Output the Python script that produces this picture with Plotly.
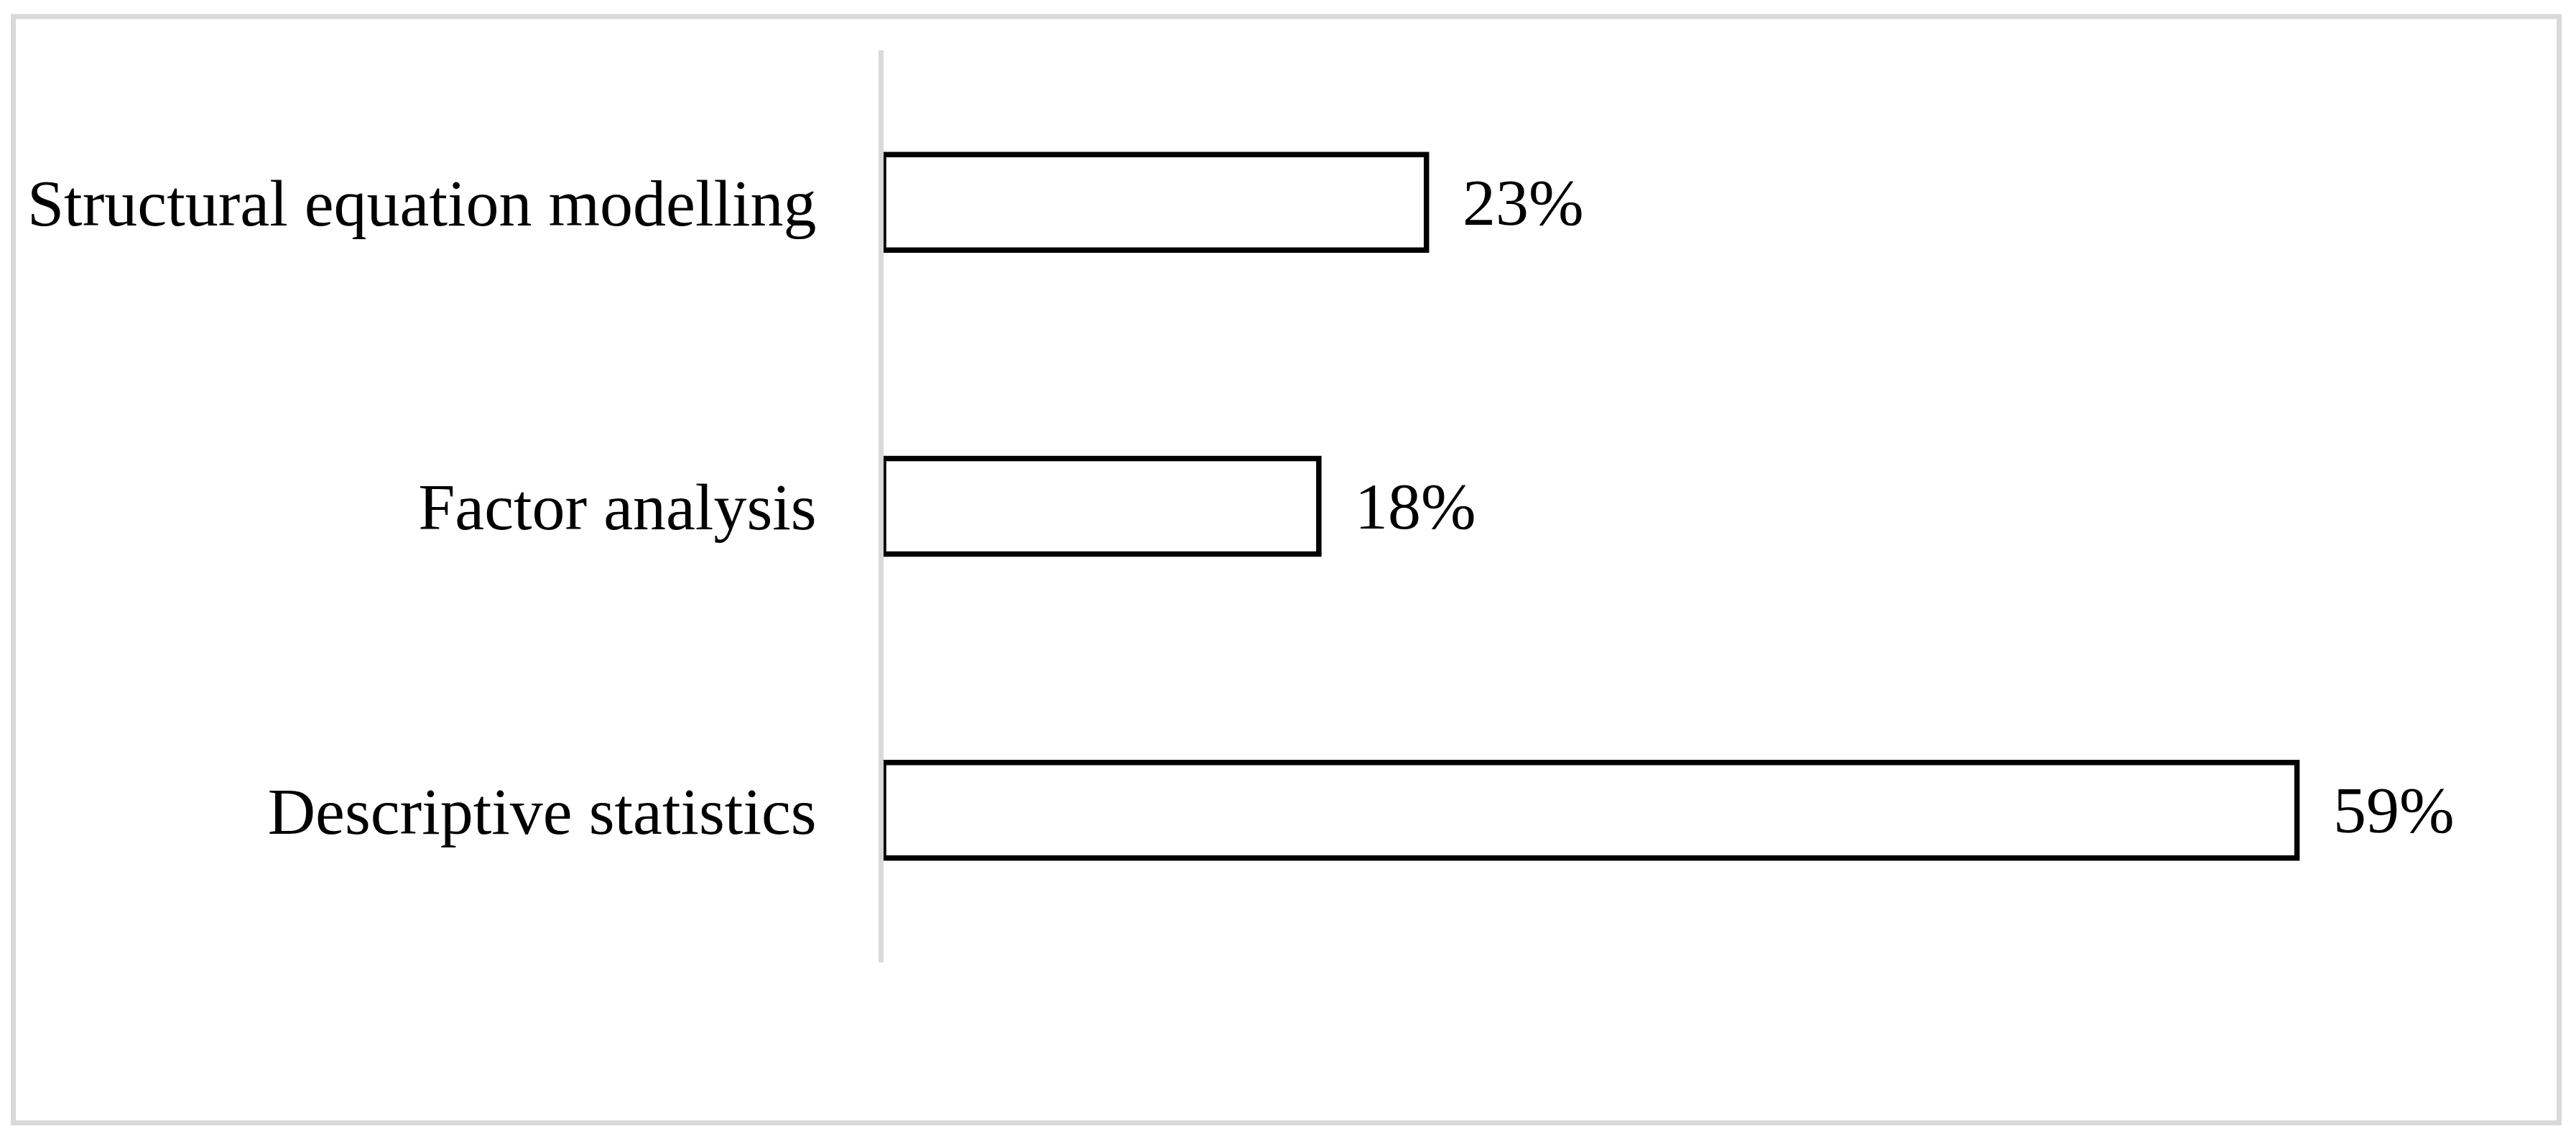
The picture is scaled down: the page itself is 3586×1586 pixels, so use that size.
import plotly.graph_objects as go

# data, bottom to top as drawn
methods = ["Descriptive statistics", "Factor analysis", "Structural equation modelling"]
shares = [59.1, 18.2, 22.7]
share_labels = [f"{v:.0f}%" for v in shares]

# page body has an 8px margin, so the figure is a bit smaller than the window
W, H = 3570, 1570
ml, mr, mt, mb = 1222, 184, 62, 238
pw = W - ml - mr
ph = H - mt - mb

def px_x(v):
    return (v - ml) / pw

def px_y(v):
    return (H - mb - v) / ph

fig = go.Figure()
fig.add_trace(go.Bar(
    y=methods,
    x=shares,
    orientation="h",
    marker=dict(color="white", line=dict(color="black", width=7.5)),
    hoverinfo="skip",
))

for m, v, lab in zip(methods, shares, share_labels):
    fig.add_annotation(x=v, y=m, text=lab, showarrow=False,
                       xanchor="left", yanchor="middle", xshift=48,
                       font=dict(size=92, color="black", family="Liberation Serif"))

# outer frame
fig.add_shape(type="rect", xref="paper", yref="paper",
              x0=px_x(10.5), x1=px_x(3554.5), y0=px_y(1555.5), y1=px_y(15),
              line=dict(color="#d9d9d9", width=7), fillcolor="rgba(0,0,0,0)", layer="below")

fig.update_layout(
    width=W, height=H,
    margin=dict(l=ml, r=mr, t=mt, b=mb, autoexpand=False),
    paper_bgcolor="white", plot_bgcolor="white",
    bargap=0.686,
    showlegend=False,
    font=dict(family="Liberation Serif", size=92, color="black"),
    xaxis=dict(range=[0, 65], visible=False, showgrid=False, zeroline=False),
    yaxis=dict(categoryorder="array", categoryarray=methods, range=[-0.5, 2.5],
               showline=True, linecolor="#d9d9d9", linewidth=7,
               showgrid=False, zeroline=False, ticks="", ticklabelstandoff=68,
               tickfont=dict(size=92, color="black", family="Liberation Serif")),
)

fig.write_html("out.html")
